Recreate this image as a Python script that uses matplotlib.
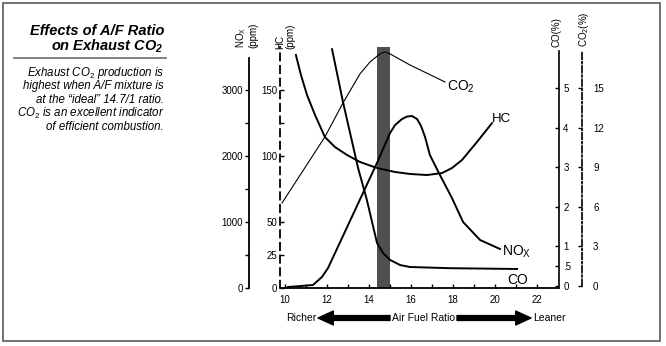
import matplotlib
matplotlib.use("Agg")
import matplotlib.pyplot as plt
from matplotlib.patches import Rectangle

plt.rcParams['font.family'] = ['Liberation Sans', 'DejaVu Sans']
plt.rcParams['mathtext.fontset'] = 'custom'
plt.rcParams['mathtext.rm'] = 'Liberation Sans'
plt.rcParams['mathtext.it'] = 'Liberation Sans:italic'
plt.rcParams['mathtext.bf'] = 'Liberation Sans:bold:italic'

# curves (x = air/fuel ratio)
nox_afr = [10.14, 11.33, 11.76, 12.05, 14.38, 15.0, 15.24, 15.57, 15.81, 16.05,
           16.29, 16.48, 16.67, 16.90, 17.33, 17.95, 18.48, 19.29, 20.24]
nox_ppm = [15, 45, 167, 303, 1894, 2348, 2469, 2560, 2598, 2606,
           2560, 2454, 2288, 2015, 1742, 1364, 1000, 727, 591]

hc_afr = [10.52, 10.76, 11.05, 11.43, 11.90, 12.38, 12.95, 13.57, 14.38, 15.24,
          15.95, 16.76, 17.48, 17.95, 18.43, 19.14, 19.86]
hc_ppm = [176.5, 161.4, 146.2, 131.1, 114.4, 106.8, 100.8, 95.5, 90.9, 87.9,
          86.4, 85.6, 87.1, 90.9, 97.0, 110.6, 125.0]

co_afr = [12.24, 12.76, 13.48, 13.90, 14.38, 14.67, 15.0, 15.48, 15.95, 17.86, 21.05]
co_pct = [5.98, 4.65, 2.98, 2.17, 1.09, 0.83, 0.66, 0.53, 0.48, 0.45, 0.43]

co2_afr = [9.86, 11.19, 11.90, 12.76, 13.57, 14.05, 14.52, 14.76, 15.0, 15.95, 17.62]
co2_pct = [6.29, 9.55, 11.29, 13.86, 16.06, 16.97, 17.58, 17.73, 17.58, 16.74, 15.45]

ideal_afr = 14.7
x_ticks = [10, 12, 14, 16, 18, 20, 22]
nox_ticks = [0, 1000, 2000, 3000]
hc_ticks = [0, 25, 50, 100, 125, 150]
hc_labels = ['0', '25', '50', '100', '', '150']
co_ticks = [0, 0.5, 1, 2, 3, 4, 5]
co_labels = ['0', '.5', '1', '2', '3', '4', '5']
co2_ticks = [0, 3, 6, 9, 12, 15]

title_lines = ['Effects of A/F Ratio', 'on Exhaust CO$_\\mathbf{2}$']
body_lines = ['Exhaust CO$_2$ production is',
              'highest when A/F mixture is',
              'at the \u201cideal\u201d 14.7/1 ratio.',
              'CO$_2$ is an excellent indicator',
              'of efficient combustion.']

W, H = 666, 346


def fx(px):
    return px / W


def fy(py):
    return 1 - py / H


fig = plt.figure(figsize=(6.66, 3.46), dpi=100)
ax = fig.add_axes([fx(249), fy(288), (582 - 249) / W, (288 - 47) / H])
ax.set_xlim(8.286, 24.143)
ax.set_ylim(0, 3652)

# NOx axis (main)
for s in ['top', 'right']:
    ax.spines[s].set_visible(False)
ax.spines['left'].set_bounds(0, 3485)
ax.spines['left'].set_linewidth(1.3)
ax.spines['bottom'].set_bounds(9.8, 23.05)
ax.spines['bottom'].set_linewidth(1.3)
ax.set_yticks(nox_ticks)
ax.set_yticks([500, 1500, 2500], minor=True)
ax.tick_params(axis='y', which='both', direction='out', length=3, width=1,
               labelsize=7, pad=1.5)
ax.set_xticks(x_ticks)
ax.set_xticks(range(11, 23, 2), minor=True)
ax.tick_params(axis='x', which='both', direction='in', length=3, width=1,
               labelsize=7, pad=5)

ax.axvspan(ideal_afr - 0.32, ideal_afr + 0.3, color='#505050', lw=0, zorder=0)
ax.plot(nox_afr, nox_ppm, color='black', lw=1.4)

# HC axis
ax_hc = ax.twinx()
ax_hc.set_ylim(0, 182.6)
for s in ['top', 'right', 'bottom']:
    ax_hc.spines[s].set_visible(False)
ax_hc.spines['left'].set_visible(True)
ax_hc.spines['left'].set_position(('data', 9.76))
ax_hc.spines['left'].set_linestyle((0, (4, 3)))
ax_hc.spines['left'].set_linewidth(1.3)
ax_hc.yaxis.tick_left()
ax_hc.set_yticks(hc_ticks)
ax_hc.set_yticklabels(hc_labels)
ax_hc.tick_params(axis='y', direction='in', length=3, width=1, labelsize=7, pad=2)
ax_hc.plot(hc_afr, hc_ppm, color='black', lw=1.4)

# CO axis
ax_co = ax.twinx()
ax_co.set_ylim(-0.05, 6.035)
for s in ['top', 'left', 'bottom']:
    ax_co.spines[s].set_visible(False)
ax_co.spines['right'].set_position(('data', 23.05))
ax_co.spines['right'].set_linestyle((0, (1, 1)))
ax_co.spines['right'].set_linewidth(1.2)
ax_co.spines['right'].set_bounds(0, 5.96)
ax_co.set_yticks(co_ticks)
ax_co.set_yticklabels(co_labels)
ax_co.tick_params(axis='y', direction='in', length=3, width=1, labelsize=7, pad=3)
ax_co.plot(co_afr, co_pct, color='black', lw=1.4)

# CO2 axis
ax_co2 = ax.twinx()
ax_co2.set_ylim(-0.15, 18.1)
for s in ['top', 'left', 'bottom']:
    ax_co2.spines[s].set_visible(False)
ax_co2.spines['right'].set_linestyle((0, (4, 1.5, 1, 1.5)))
ax_co2.spines['right'].set_linewidth(1.2)
ax_co2.spines['right'].set_bounds(0, 17.8)
ax_co2.set_yticks(co2_ticks)
ax_co2.tick_params(axis='y', direction='in', length=3, width=1, labelsize=7, pad=8)
ax_co2.plot(co2_afr, co2_pct, color='black', lw=0.8)

# curve labels
ax_co2.text(17.71, 15.1, 'CO$_2$', fontsize=10, ha='left', va='center')
ax_hc.text(19.86, 128, 'HC', fontsize=9.5, ha='left', va='center')
ax.text(20.33, 545, 'NO$_\\mathrm{X}$', fontsize=10, ha='left', va='center')
ax_co.text(20.57, 0.15, 'CO', fontsize=10, ha='left', va='center')

# axis titles (rotated)
fig.text(fx(246), fy(48), 'NO$_\\mathrm{X}$\n(ppm)', rotation=90, fontsize=7,
         ha='center', va='bottom', multialignment='left', linespacing=1.0)
fig.text(fx(285), fy(49), 'HC\n(ppm)', rotation=90, fontsize=7,
         ha='center', va='bottom', multialignment='left', linespacing=1.0)
fig.text(fx(557), fy(47), 'CO(%)', rotation=90, fontsize=7,
         ha='center', va='bottom')
fig.text(fx(584), fy(47), 'CO$_2$(%)', rotation=90, fontsize=7,
         ha='center', va='bottom')

# bottom caption with arrows
fig.text(fx(316), fy(318), 'Richer', fontsize=7.5, ha='right', va='center')
fig.text(fx(424), fy(318), 'Air Fuel Ratio', fontsize=7.5, ha='center', va='center')
fig.text(fx(533), fy(318), 'Leaner', fontsize=7.5, ha='left', va='center')
arrow = dict(arrowstyle='simple,head_length=1.1,head_width=1.0,tail_width=0.35',
             color='black', mutation_scale=10, shrinkA=0, shrinkB=0)
ax.annotate('', xy=(fx(318), fy(318)), xytext=(fx(390), fy(318)),
            xycoords='figure fraction', textcoords='figure fraction', arrowprops=arrow)
ax.annotate('', xy=(fx(531), fy(318)), xytext=(fx(457), fy(318)),
            xycoords='figure fraction', textcoords='figure fraction', arrowprops=arrow)

# left text panel
for i, line in enumerate(title_lines):
    fig.text(fx(164), fy(31 + 15 * i), line, fontsize=10.5, fontweight='bold',
             style='italic', ha='right', va='center')
fig.add_artist(plt.Line2D([fx(14), fx(166)], [fy(58), fy(58)], color='#777777', lw=1.3))
for i, line in enumerate(body_lines):
    fig.text(fx(164), fy(73 + 13.5 * i), line, fontsize=8.3, style='italic',
             ha='right', va='center')

fig.add_artist(Rectangle((fx(3), fy(341)), (660 - 3) / W, (341 - 3) / H,
                         transform=fig.transFigure, fill=False, lw=1.3, ec='#666666'))

fig.savefig('out.png', dpi=100)
